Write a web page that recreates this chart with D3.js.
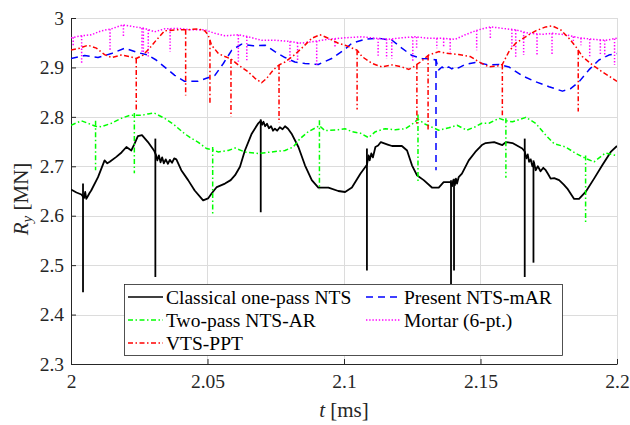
<!DOCTYPE html>
<html>
<head>
<meta charset="utf-8">
<script src="https://cdn.jsdelivr.net/npm/d3@7"></script>
<style>
  html, body { margin: 0; padding: 0; background: #fff; }
  svg { display: block; font-family: "Liberation Serif", "Times New Roman", serif; }
</style>
</head>
<body>
<svg id="chart" width="630" height="425"></svg>
<script>
// Reaction force R_y over time for five time-stepping schemes.
const tTicks = [2, 2.05, 2.1, 2.15, 2.2];
const tLabels = ["2", "2.05", "2.1", "2.15", "2.2"];
const rTicks = [2.3, 2.4, 2.5, 2.6, 2.7, 2.8, 2.9, 3];
const rLabels = ["2.3", "2.4", "2.5", "2.6", "2.7", "2.8", "2.9", "3"];

// [t (ms), R_y (MN)]
const classical = [
  [2.0000,2.653],[2.0020,2.647],[2.0038,2.643],[2.0048,2.636],[2.0052,2.648],[2.0056,2.634],[2.0062,2.640],
  [2.0068,2.646],[2.0074,2.651],[2.0099,2.678],[2.0123,2.712],[2.0133,2.706],[2.0142,2.709],[2.0166,2.719],
  [2.0185,2.728],[2.0203,2.739],[2.0221,2.732],[2.0233,2.746],[2.0245,2.761],[2.0260,2.763],[2.0282,2.749],
  [2.0304,2.732],[2.0312,2.722],[2.0316,2.712],[2.0322,2.722],[2.0328,2.708],[2.0334,2.718],[2.0340,2.706],
  [2.0347,2.714],[2.0355,2.705],[2.0362,2.713],[2.0370,2.707],[2.0378,2.716],[2.0386,2.714],[2.0404,2.692],
  [2.0429,2.672],[2.0453,2.651],[2.0484,2.631],[2.0502,2.635],[2.0515,2.645],[2.0534,2.658],[2.0564,2.665],
  [2.0585,2.672],[2.0601,2.682],[2.0619,2.699],[2.0637,2.732],[2.0662,2.766],[2.0686,2.787],[2.0695,2.792],
  [2.0700,2.784],[2.0705,2.790],[2.0711,2.781],[2.0718,2.786],[2.0725,2.777],[2.0733,2.781],[2.0740,2.772],
  [2.0747,2.776],[2.0755,2.772],[2.0765,2.779],[2.0775,2.775],[2.0784,2.781],[2.0795,2.776],[2.0808,2.766],
  [2.0833,2.739],[2.0857,2.702],[2.0882,2.672],[2.0906,2.657],[2.0943,2.657],[2.0979,2.650],[2.1004,2.648],
  [2.1029,2.657],[2.1060,2.685],[2.1084,2.703],[2.1090,2.722],[2.1094,2.712],[2.1100,2.726],[2.1106,2.718],
  [2.1115,2.739],[2.1125,2.742],[2.1135,2.749],[2.1145,2.747],[2.1160,2.744],[2.1176,2.741],[2.1212,2.741],
  [2.1231,2.732],[2.1249,2.702],[2.1267,2.682],[2.1292,2.672],[2.1322,2.657],[2.1347,2.657],[2.1365,2.668],
  [2.1390,2.668],[2.1396,2.660],[2.1400,2.672],[2.1406,2.662],[2.1410,2.675],[2.1414,2.665],[2.1420,2.678],
  [2.1432,2.685],[2.1457,2.712],[2.1481,2.729],[2.1505,2.743],[2.1519,2.747],[2.1550,2.749],[2.1580,2.743],
  [2.1593,2.749],[2.1617,2.747],[2.1653,2.736],[2.1662,2.730],[2.1668,2.716],[2.1673,2.724],[2.1678,2.709],
  [2.1684,2.714],[2.1690,2.700],[2.1696,2.708],[2.1702,2.692],[2.1710,2.700],[2.1720,2.690],[2.1730,2.697],
  [2.1739,2.692],[2.1748,2.684],[2.1757,2.675],[2.1770,2.676],[2.1788,2.672],[2.1805,2.663],[2.1818,2.655],
  [2.1843,2.634],[2.1861,2.634],[2.1885,2.648],[2.1916,2.675],[2.1946,2.702],[2.1977,2.729],[2.2000,2.741]
];
// [t, lowest value, highest value]
const classicalSpikes = [
  [2.0044,2.445,2.665],[2.0309,2.476,2.756],[2.0695,2.607,2.795],[2.1084,2.489,2.736],
  [2.1392,2.462,2.672],[2.1403,2.489,2.675],[2.1662,2.476,2.756],[2.1694,2.505,2.712]
];

const presentMAR = [
  [2.0000,2.918],[2.0050,2.924],[2.0099,2.920],[2.0148,2.928],[2.0197,2.939],[2.0245,2.930],[2.0282,2.925],
  [2.0312,2.915],[2.0349,2.898],[2.0380,2.884],[2.0416,2.872],[2.0465,2.872],[2.0496,2.878],[2.0527,2.884],
  [2.0558,2.908],[2.0589,2.935],[2.0625,2.947],[2.0668,2.944],[2.0711,2.945],[2.0747,2.932],[2.0784,2.920],
  [2.0820,2.911],[2.0857,2.908],[2.0906,2.906],[2.0955,2.918],[2.1004,2.937],[2.1029,2.949],[2.1078,2.957],
  [2.1127,2.959],[2.1176,2.955],[2.1212,2.939],[2.1249,2.924],[2.1286,2.918],[2.1322,2.917],[2.1337,2.915],
  [2.1347,2.895],[2.1359,2.901],[2.1371,2.896],[2.1383,2.901],[2.1395,2.897],[2.1408,2.902],[2.1420,2.899],
  [2.1444,2.906],[2.1481,2.910],[2.1505,2.908],[2.1531,2.905],[2.1568,2.906],[2.1604,2.901],[2.1653,2.883],
  [2.1702,2.871],[2.1751,2.861],[2.1800,2.852],[2.1830,2.857],[2.1861,2.871],[2.1897,2.895],[2.1934,2.915],
  [2.1970,2.925],[2.2000,2.928]
];
const presentSpikes = [[2.1337,2.692,2.917]];

const twoPassAR = [
  [2.0000,2.783],[2.0038,2.792],[2.0062,2.787],[2.0090,2.781],[2.0111,2.780],[2.0148,2.787],[2.0184,2.797],
  [2.0215,2.803],[2.0232,2.803],[2.0258,2.803],[2.0282,2.806],[2.0304,2.808],[2.0343,2.797],[2.0380,2.783],
  [2.0416,2.766],[2.0440,2.757],[2.0465,2.749],[2.0496,2.736],[2.0519,2.733],[2.0540,2.729],[2.0576,2.732],
  [2.0601,2.737],[2.0637,2.729],[2.0686,2.726],[2.0735,2.729],[2.0784,2.732],[2.0814,2.739],[2.0839,2.756],
  [2.0869,2.770],[2.0910,2.782],[2.0930,2.772],[2.0979,2.774],[2.1004,2.776],[2.1029,2.770],[2.1060,2.767],
  [2.1090,2.758],[2.1115,2.770],[2.1151,2.776],[2.1188,2.774],[2.1225,2.776],[2.1249,2.785],[2.1271,2.795],
  [2.1298,2.785],[2.1347,2.773],[2.1384,2.778],[2.1414,2.783],[2.1450,2.773],[2.1481,2.780],[2.1505,2.787],
  [2.1531,2.787],[2.1568,2.797],[2.1593,2.792],[2.1617,2.790],[2.1666,2.799],[2.1702,2.787],[2.1739,2.763],
  [2.1769,2.746],[2.1812,2.739],[2.1849,2.726],[2.1885,2.716],[2.1916,2.709],[2.1958,2.727],[2.1995,2.722],
  [2.2000,2.722]
];
const twoPassSpikes = [
  [2.0090,2.692,2.792],[2.0232,2.686,2.808],[2.0519,2.601,2.739],[2.0910,2.653,2.793],
  [2.1271,2.668,2.805],[2.1593,2.677,2.797],[2.1885,2.584,2.722]
];

const mortar = [
  [2.0000,2.960],[2.0038,2.964],[2.0074,2.966],[2.0111,2.974],[2.0148,2.978],[2.0190,2.986],[2.0233,2.982],
  [2.0270,2.979],[2.0306,2.972],[2.0343,2.978],[2.0392,2.979],[2.0441,2.976],[2.0490,2.976],[2.0527,2.969],
  [2.0564,2.964],[2.0613,2.966],[2.0649,2.962],[2.0698,2.955],[2.0747,2.955],[2.0796,2.953],[2.0845,2.949],
  [2.0894,2.953],[2.0943,2.957],[2.1004,2.960],[2.1066,2.962],[2.1115,2.959],[2.1164,2.957],[2.1212,2.960],
  [2.1261,2.962],[2.1310,2.959],[2.1359,2.959],[2.1408,2.957],[2.1444,2.966],[2.1481,2.974],[2.1505,2.978],
  [2.1538,2.982],[2.1580,2.979],[2.1629,2.976],[2.1678,2.969],[2.1727,2.967],[2.1763,2.969],[2.1812,2.966],
  [2.1861,2.960],[2.1910,2.957],[2.1958,2.955],[2.2000,2.959]
];
const mortarSpikes = [
  [2.0008,2.945],[2.0039,2.908],[2.0143,2.932],[2.0192,2.962],[2.0260,2.930],[2.0265,2.928],[2.0283,2.922],
  [2.0363,2.932],[2.0613,2.908],[2.0644,2.913],[2.0802,2.911],[2.0830,2.915],[2.0900,2.905],[2.0967,2.940],
  [2.1125,2.922],[2.1156,2.918],[2.1175,2.918],[2.1252,2.910],[2.1266,2.940],[2.1340,2.939],[2.1365,2.942],
  [2.1389,2.930],[2.1486,2.935],[2.1536,2.958],[2.1615,2.940],[2.1629,2.920],[2.1658,2.925],[2.1707,2.925],
  [2.1762,2.925],[2.1840,2.952],[2.1868,2.945],[2.1900,2.920],[2.1939,2.925],[2.1955,2.922],[2.1991,2.905]
];

const vtsPPT = [
  [2.0000,2.935],[2.0032,2.939],[2.0062,2.945],[2.0093,2.939],[2.0123,2.926],[2.0148,2.920],[2.0184,2.925],
  [2.0215,2.922],[2.0239,2.918],[2.0264,2.925],[2.0288,2.939],[2.0312,2.955],[2.0343,2.974],[2.0380,2.976],
  [2.0420,2.976],[2.0465,2.978],[2.0490,2.974],[2.0502,2.966],[2.0509,2.955],[2.0515,2.945],[2.0540,2.928],
  [2.0564,2.922],[2.0586,2.917],[2.0613,2.905],[2.0649,2.891],[2.0674,2.878],[2.0698,2.869],[2.0717,2.878],
  [2.0741,2.895],[2.0762,2.905],[2.0784,2.911],[2.0820,2.926],[2.0851,2.942],[2.0882,2.959],[2.0912,2.966],
  [2.0943,2.959],[2.0979,2.949],[2.1004,2.945],[2.1017,2.942],[2.1048,2.935],[2.1066,2.922],[2.1103,2.908],
  [2.1139,2.901],[2.1176,2.905],[2.1212,2.901],[2.1237,2.896],[2.1255,2.901],[2.1267,2.906],[2.1280,2.911],
  [2.1310,2.925],[2.1347,2.932],[2.1384,2.928],[2.1420,2.926],[2.1463,2.922],[2.1495,2.911],[2.1531,2.901],
  [2.1562,2.903],[2.1580,2.906],[2.1604,2.932],[2.1629,2.949],[2.1665,2.962],[2.1702,2.974],[2.1739,2.982],
  [2.1763,2.984],[2.1794,2.976],[2.1824,2.959],[2.1849,2.942],[2.1858,2.935],[2.1873,2.922],[2.1910,2.905],
  [2.1946,2.891],[2.1983,2.878],[2.2000,2.872]
];
const vtsSpikes = [
  [2.0239,2.810],[2.0420,2.843],[2.0509,2.825],[2.0586,2.800],[2.0762,2.788],
  [2.1048,2.815],[2.1267,2.786],[2.1308,2.771],[2.1580,2.803],[2.1858,2.811]
];

const seriesNames = ["Classical one-pass NTS", "Present NTS-mAR", "Two-pass NTS-AR", "Mortar (6-pt.)", "VTS-PPT"];

const series = [
  { name: seriesNames[0], data: classical,  spikes: classicalSpikes, color: "#000000", dash: null, width: 1.8 },
  { name: seriesNames[1], data: presentMAR, spikes: presentSpikes,   color: "#0000ff", dash: "7,5", width: 1.5 },
  { name: seriesNames[2], data: twoPassAR,  spikes: twoPassSpikes,   color: "#00ff00", dash: "5,2.5,1.5,2.5", width: 1.5 },
  { name: seriesNames[3], data: mortar,     spikes: mortarSpikes,    color: "#ff00ff", dash: "1.4,1.8", width: 1.5 },
  { name: seriesNames[4], data: vtsPPT,     spikes: vtsSpikes,       color: "#ff0000", dash: "5,2.5,1.5,2.5", width: 1.5 }
];

const margin = { left: 71, right: 13, top: 18, bottom: 61 };
const W = 630, H = 425;
const x = d3.scaleLinear().domain([2, 2.2]).range([margin.left, W - margin.right]);
const y = d3.scaleLinear().domain([2.3, 3]).range([H - margin.bottom, margin.top]);

const svg = d3.select("#chart");
const axisColor = "#262626";
const serif = "'Liberation Serif', 'Times New Roman', serif";

// grid
const grid = svg.append("g").attr("stroke", "#dcdcdc").attr("stroke-width", 1);
grid.selectAll("line.gx").data(tTicks).join("line")
  .attr("x1", d => Math.round(x(d)) + 0.5).attr("x2", d => Math.round(x(d)) + 0.5)
  .attr("y1", y(2.3)).attr("y2", y(3));
grid.selectAll("line.gy").data(rTicks).join("line")
  .attr("y1", d => Math.round(y(d)) + 0.5).attr("y2", d => Math.round(y(d)) + 0.5)
  .attr("x1", x(2)).attr("x2", x(2.2));

// axes
const xAxis = d3.axisBottom(x).tickValues(tTicks).tickFormat((d, i) => tLabels[i])
  .tickSizeInner(-5).tickSizeOuter(0).tickPadding(10);
const yAxis = d3.axisLeft(y).tickValues(rTicks).tickFormat((d, i) => rLabels[i])
  .tickSizeInner(-5).tickSizeOuter(0).tickPadding(7);

const gx = svg.append("g").attr("transform", `translate(0,${y(2.3)})`).call(xAxis);
const gy = svg.append("g").attr("transform", `translate(${x(2)},0)`).call(yAxis);
[gx, gy].forEach(g => {
  g.attr("font-family", serif).attr("font-size", 19.5);
  g.select(".domain").attr("stroke", axisColor).attr("stroke-width", 1);
  g.selectAll(".tick line").attr("stroke", axisColor);
  g.selectAll(".tick text").attr("fill", axisColor);
});

// series
svg.append("clipPath").attr("id", "plotClip").append("rect")
  .attr("x", x(2)).attr("y", y(3)).attr("width", x(2.2) - x(2)).attr("height", y(2.3) - y(3));
const plot = svg.append("g").attr("clip-path", "url(#plotClip)");

const line = d3.line().x(d => x(d[0])).y(d => y(d[1]));
const valueAt = (data, t) => {
  const i = d3.bisector(d => d[0]).left(data, t);
  if (i <= 0) return data[0][1];
  if (i >= data.length) return data[data.length - 1][1];
  const a = data[i - 1], b = data[i];
  return a[1] + (b[1] - a[1]) * (t - a[0]) / (b[0] - a[0]);
};

series.forEach(s => {
  const g = plot.append("g")
    .attr("fill", "none").attr("stroke", s.color).attr("stroke-width", s.width)
    .attr("stroke-linejoin", "round")
    .attr("stroke-dasharray", s.dash);
  g.append("path").attr("d", line(s.data));
  g.selectAll("path.spike").data(s.spikes).join("path")
    .attr("class", "spike")
    .attr("d", d => {
      const top = d.length > 2 ? d[2] : valueAt(s.data, d[0]);
      return line([[d[0], top], [d[0], d[1]]]);
    });
});

// legend
const lg = svg.append("g").attr("font-family", serif).attr("font-size", 19.5);
lg.append("rect").attr("x", 124.5).attr("y", 284.5).attr("width", 438).attr("height", 71)
  .attr("fill", "#fff").attr("stroke", axisColor).attr("stroke-width", 0.8);
const legendPos = [
  { col: 0, row: 0 }, { col: 1, row: 0 }, { col: 0, row: 1 }, { col: 1, row: 1 }, { col: 0, row: 2 }
];
const colX = [128, 366];
series.forEach((s, i) => {
  const p = legendPos[i];
  const ly = 297 + p.row * 23;
  lg.append("line").attr("x1", colX[p.col]).attr("x2", colX[p.col] + 35)
    .attr("y1", ly).attr("y2", ly)
    .attr("stroke", s.color).attr("stroke-width", 1.5).attr("stroke-dasharray", s.dash);
  lg.append("text").attr("x", colX[p.col] + 38).attr("y", ly + 6.5)
    .attr("fill", "#000").text(s.name);
});

// axis labels
const xl = svg.append("text").attr("x", (x(2) + x(2.2)) / 2).attr("y", 417)
  .attr("text-anchor", "middle").attr("fill", axisColor)
  .attr("font-family", serif).attr("font-size", 21);
xl.append("tspan").style("font-style", "italic").text("t");
xl.append("tspan").text(" [ms]");

const yl = svg.append("text").attr("transform", `translate(28,199) rotate(-90)`)
  .attr("text-anchor", "middle").attr("fill", axisColor)
  .attr("font-family", serif).attr("font-size", 21);
yl.append("tspan").style("font-style", "italic").text("R");
yl.append("tspan").style("font-style", "italic").attr("font-size", 15).attr("dy", 4).text("y");
yl.append("tspan").attr("dy", -4).text(" [MN]");
</script>
</body>
</html>
